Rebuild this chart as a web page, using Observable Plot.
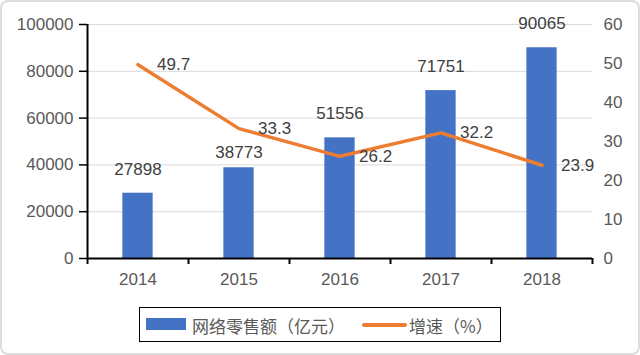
<!DOCTYPE html>
<html>
<head>
<meta charset="utf-8">
<script src="https://cdn.jsdelivr.net/npm/d3@7"></script>
<script src="https://cdn.jsdelivr.net/npm/@observablehq/plot@0.6"></script>
<style>
  html, body { margin: 0; padding: 0; background: #fff; }
  #wrap { position: relative; width: 640px; height: 355px; overflow: hidden; font-family: "Liberation Sans", "Noto Sans CJK SC", sans-serif; }
  #frame { position: absolute; left: 0; top: 0; width: 640px; height: 355px; box-sizing: border-box; border: 2px solid #dcdcdc; border-radius: 8px; pointer-events: none; }
  #chart { position: absolute; left: 0; top: 0; }
  #legend { position: absolute; left: 139px; top: 307px; width: 362px; height: 35px; box-sizing: border-box; border: 1.5px solid #000; background: #fff; }
  .sw { position: absolute; }
  .lt { position: absolute; top: 50%; transform: translateY(-50%); font-size: 17px; color: #595959; white-space: nowrap; font-family: "Noto Sans CJK SC", sans-serif; }
</style>
</head>
<body>
<div id="wrap">
  <div id="chart"></div>
  <div id="legend"></div>
  <div id="frame"></div>
</div>
<script>
const years = [2014, 2015, 2016, 2017, 2018];
const sales = [27898, 38773, 51556, 71751, 90065];
const growth = [49.7, 33.3, 26.2, 32.2, 23.9];
const leftTicks = [0, 20000, 40000, 60000, 80000, 100000];
const rightTicks = [0, 10, 20, 30, 40, 50, 60];
const seriesNames = ["网络零售额（亿元）", "增速（%）"];

const BLUE = "#4472C4", ORANGE = "#ED7D31";
const leftMax = 100000, rightMax = 60;
const toLeft = v => v * leftMax / rightMax;

const data = years.map((year, i) => ({year, sales: sales[i], growth: growth[i]}));
const bounds = years.map(y => y - 0.5).concat([years[years.length - 1] + 0.5]);

const chart = Plot.plot({
  width: 640,
  height: 290,
  marginLeft: 87,
  marginRight: 48,
  marginTop: 24,
  marginBottom: 32,
  style: {fontSize: "17px", fontFamily: "'Liberation Sans', 'Noto Sans CJK SC', sans-serif", background: "transparent"},
  x: {domain: [bounds[0], bounds[bounds.length - 1]]},
  y: {domain: [0, leftMax]},
  marks: [
    Plot.ruleY(leftTicks.filter(d => d > 0), {stroke: "#d9d9d9", strokeWidth: 1}),
    Plot.rectY(data, {x1: d => d.year - 0.15, x2: d => d.year + 0.15, y: "sales", fill: BLUE}),
    Plot.ruleY([0], {stroke: "#000", strokeWidth: 2}),
    Plot.ruleX([bounds[0]], {y1: 0, y2: leftMax, stroke: "#000", strokeWidth: 2}),
    Plot.axisY({ticks: leftTicks, label: null, tickSize: 8, tickPadding: 6, tickFormat: d => String(d), stroke: "#000", fill: "#595959", strokeWidth: 1.5}),
    Plot.axisY({anchor: "right", label: null, ticks: rightTicks.map(toLeft), tickSize: 0, tickPadding: 11, textAnchor: "start", tickFormat: d => String(Math.round(d * rightMax / leftMax)), fill: "#595959"}),
    Plot.axisX({ticks: bounds, label: null, tickSize: 6, tickFormat: () => "", stroke: "#000", strokeWidth: 2}),
    Plot.axisX({ticks: years, label: null, tickSize: 0, tickPadding: 14, tickFormat: d => String(d), fill: "#595959"}),
    Plot.line(data, {x: "year", y: d => toLeft(d.growth), stroke: ORANGE, strokeWidth: 3.5, strokeLinejoin: "round", strokeLinecap: "round"}),
    Plot.text(data.filter(d => d.year !== 2015), {x: "year", y: "sales", text: d => String(d.sales), dy: -24, fill: "#404040"}),
    Plot.text(data.filter(d => d.year === 2015), {x: "year", y: "sales", text: d => String(d.sales), dy: -15, fill: "#404040"}),
    Plot.text(data, {x: "year", y: d => toLeft(d.growth), text: d => d.growth.toFixed(1), textAnchor: "start", dx: 19, fill: "#404040"})
  ]
});
document.getElementById("chart").appendChild(chart);

const legend = document.getElementById("legend");
legend.innerHTML = `
  <div class="sw" style="left:6px; top:10px; width:40px; height:12px; background:${BLUE}"></div>
  <div class="lt" style="left:52px">${seriesNames[0]}</div>
  <div class="sw" style="left:222px; top:14.5px; width:45px; height:4px; background:${ORANGE}; border-radius:2px"></div>
  <div class="lt" style="left:269px">${seriesNames[1]}</div>
`;
</script>
</body>
</html>
